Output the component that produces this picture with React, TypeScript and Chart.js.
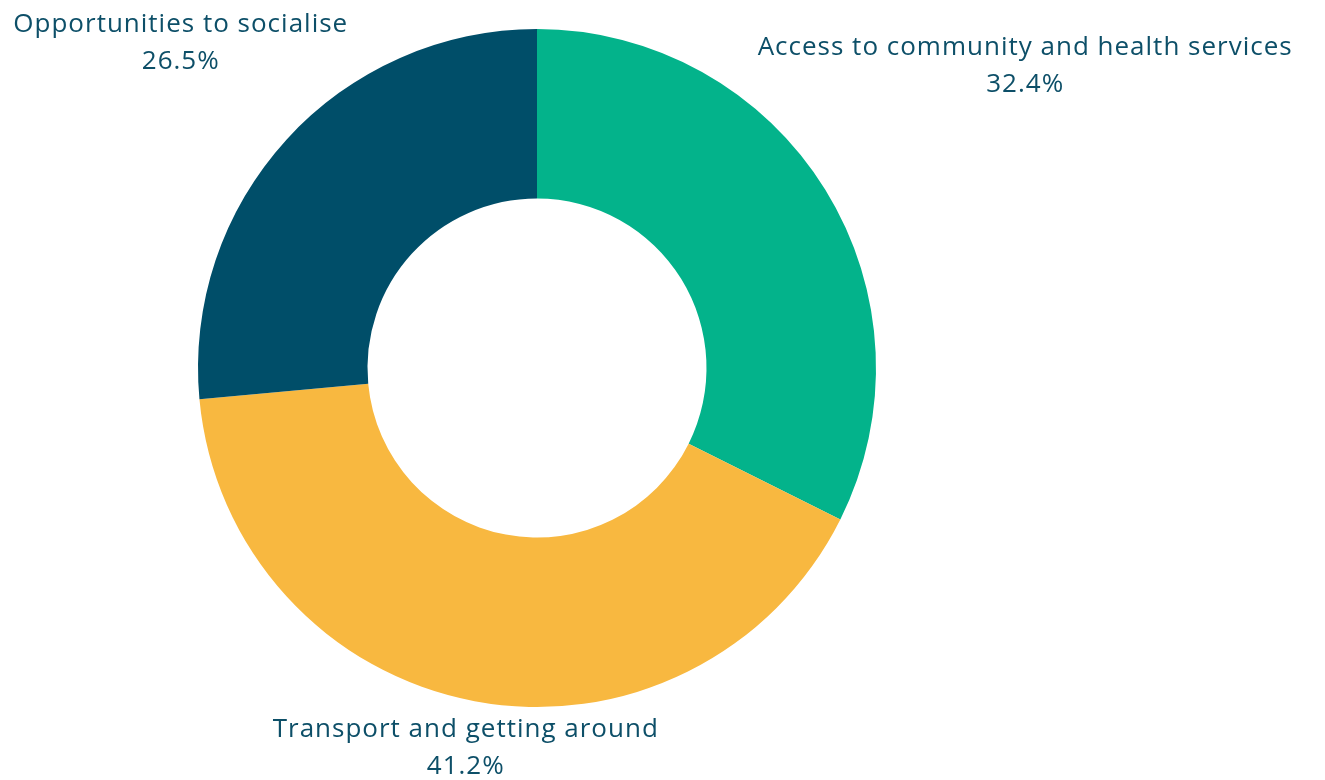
import React, { useEffect, useRef } from "react";
import { Chart, registerables } from "chart.js";

Chart.register(...registerables);

const categories = [
  "Access to community and health services",
  "Transport and getting around",
  "Opportunities to socialise",
];
const values = [32.4, 41.2, 26.5];
const valueLabels = ["32.4%", "41.2%", "26.5%"];
const colors = ["#03b38b", "#f8b840", "#004e69"];

const TEXT_COLOR = "#0d4f68";
const FONT = "400 26px 'Open Sans', sans-serif";

const outerLabels = {
  id: "outerLabels",
  afterDraw(chart: any) {
    const ctx = chart.ctx;
    const meta = chart.getDatasetMeta(0);
    const lh = 37;
    const boxH = 62;
    const pad = 10;
    ctx.save();
    ctx.font = FONT;
    (ctx as any).letterSpacing = "1px";
    ctx.fillStyle = TEXT_COLOR;
    ctx.textAlign = "center";
    ctx.textBaseline = "middle";
    meta.data.forEach((arc: any, i: number) => {
      const { x, y, startAngle, endAngle, outerRadius } = arc.getProps(
        ["x", "y", "startAngle", "endAngle", "outerRadius"],
        true
      );
      const mid = (startAngle + endAngle) / 2;
      const dx = Math.cos(mid);
      const dy = Math.sin(mid);
      const l1 = categories[i];
      const l2 = valueLabels[i];
      const w = Math.max(ctx.measureText(l1).width, ctx.measureText(l2).width);
      let d = 0;
      for (; d < 2000; d += 0.5) {
        const cx = dx * d;
        const cy = dy * d;
        const x0 = cx - w / 2, x1 = cx + w / 2;
        const y0 = cy - boxH / 2, y1 = cy + boxH / 2;
        const nx = Math.min(Math.max(0, x0), x1);
        const ny = Math.min(Math.max(0, y0), y1);
        if (Math.hypot(nx, ny) >= outerRadius + pad) break;
      }
      const cx = x + dx * d;
      const cy = y + dy * d;
      ctx.fillText(l1, cx, cy - lh / 2);
      ctx.fillText(l2, cx, cy + lh / 2);
    });
    ctx.restore();
  },
};

export default function App() {
  const ref = useRef<HTMLCanvasElement | null>(null);
  useEffect(() => {
    if (!ref.current) return;
    const chart = new Chart(ref.current, {
      type: "doughnut",
      data: {
        labels: categories,
        datasets: [
          {
            data: values,
            backgroundColor: colors,
            borderWidth: 0,
          },
        ],
      },
      options: {
        animation: false,
        responsive: false,
        cutout: "50%",
        layout: { padding: { left: 198, right: 449, top: 29, bottom: 73 } },
        plugins: {
          legend: { display: false },
          tooltip: { enabled: false },
        },
      },
      plugins: [outerLabels],
    });
    return () => chart.destroy();
  }, []);
  return (
    <div style={{ position: "absolute", left: 0, top: 0, width: 1325, height: 780 }}>
      <canvas ref={ref} width={1325} height={780} style={{ display: "block" }} />
    </div>
  );
}
